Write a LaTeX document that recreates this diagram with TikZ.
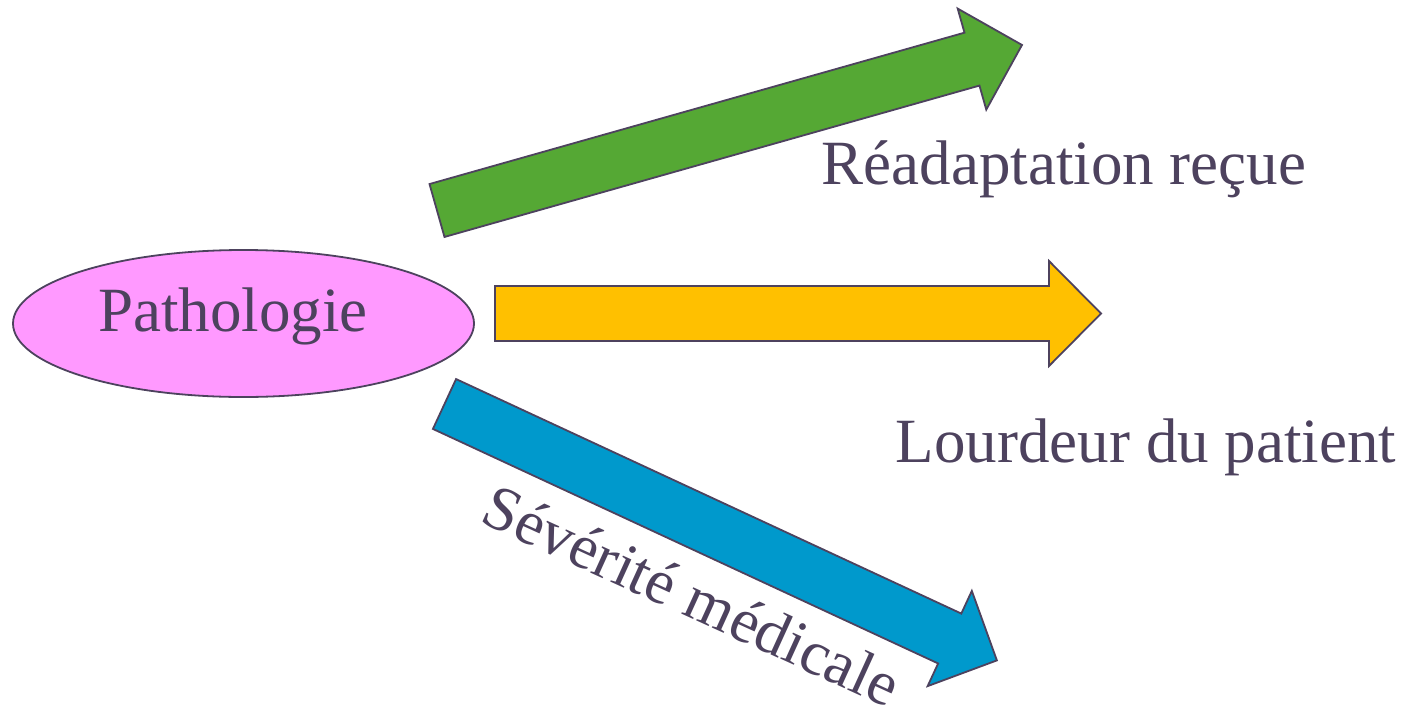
\documentclass[tikz,border=0pt]{standalone}
\usepackage{fontspec}
\setmainfont{Liberation Serif}
\usetikzlibrary{shapes.geometric}

\definecolor{inkgray}{RGB}{77,66,94}
\definecolor{pinkfill}{RGB}{255,153,255}
\definecolor{greenfill}{RGB}{85,168,52}
\definecolor{yellowfill}{RGB}{255,192,0}
\definecolor{bluefill}{RGB}{0,153,204}

\tikzset{
  outline/.style={draw=inkgray, line width=1.8pt, line join=miter},
  label text/.style={text=inkgray, font=\fontsize{63}{70}\selectfont, inner sep=0pt},
}

% block arrow: #1 fill colour, tail centre (#2,#3), angle #4, length #5
\newcommand{\blockarrow}[5]{%
  \begin{scope}[shift={(#2,#3)}, rotate=#4]
    \draw[outline, fill=#1]
      (0,-27.5) -- (#5-52,-27.5) -- (#5-52,-52.5) -- (#5,0)
      -- (#5-52,52.5) -- (#5-52,27.5) -- (0,27.5) -- cycle;
  \end{scope}}

\begin{document}
\begin{tikzpicture}[x=1pt, y=-1pt]
  \useasboundingbox (0,0) rectangle (1412,712);

  % central ellipse
  \node[ellipse, outline, fill=pinkfill, minimum width=461, minimum height=147, inner sep=0pt]
    (patho) at (243.5,323.5) {};
  \node[label text, anchor=base] (pathotext) at (233,331) {Pathologie};

  % three outgoing block arrows
  \blockarrow{greenfill}{437}{210.5}{15.8}{608}
  \blockarrow{yellowfill}{495}{313.5}{0}{606}
  \blockarrow{bluefill}{444.5}{404}{-24.9}{609}

  % arrow labels
  \node[label text, anchor=base] (readapt) at (1064,184) {Réadaptation reçue};
  \node[label text, anchor=base] (lourdeur) at (1146,462) {Lourdeur du patient};
  \node[label text, anchor=base, rotate=-24.5] (severite) at (683,615) {Sévérité médicale};
\end{tikzpicture}
\end{document}
